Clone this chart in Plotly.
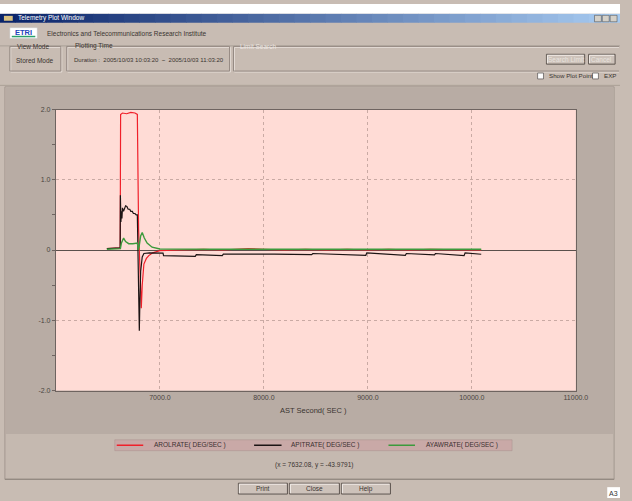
import plotly.graph_objects as go

# ---------------- data ----------------
rol_x = [6490, 6600, 6618, 6622, 6640, 6680, 6720, 6760, 6783, 6795, 6810, 6821, 6830, 6846,
         6870, 6893, 6930, 6972, 7000, 7200, 7400, 7420, 7600, 7800, 7850, 8000, 8200, 8400,
         8600, 8800, 9000, 9200, 9400, 9600, 9800, 10000, 10090]
rol_y = [0.02, 0.02, 0.03, 1.93, 1.95, 1.94, 1.96, 1.95, 1.93, 0.3, -0.6, -0.83, -0.5, -0.2,
         -0.12, -0.08, -0.04, -0.02, -0.01, 0.0, 0.01, 0.01, 0.0, 0.01, 0.02, 0.01, 0.0, 0.01,
         0.0, 0.01, 0.0, 0.01, 0.0, 0.01, 0.0, 0.0, 0.0]

pit_x = [6490, 6600, 6618, 6620, 6625, 6630, 6635, 6640, 6650, 6660, 6670, 6682, 6695, 6710,
         6720, 6735, 6745, 6760, 6772, 6783, 6792, 6802, 6808, 6815, 6830, 6846, 6900, 6960,
         7030, 7035, 7340, 7350, 7600, 7610, 7860, 7870, 8100, 8460, 8470, 8980, 8990, 9360,
         9370, 9640, 9650, 9925, 9935, 10090]
pit_y = [0.02, 0.02, 0.03, 0.78, 0.40, 0.55, 0.45, 0.60, 0.55, 0.60, 0.63, 0.62, 0.58, 0.58,
         0.55, 0.55, 0.52, 0.52, 0.50, 0.50, -0.30, -1.15, -0.70, -0.30, -0.10, -0.05, -0.04, -0.045,
         -0.045, -0.08, -0.09, -0.065, -0.08, -0.06, -0.07, -0.06, -0.06, -0.065, -0.05, -0.075, -0.04, -0.075,
         -0.05, -0.07, -0.05, -0.08, -0.04, -0.06]

yaw_x = [6490, 6600, 6620, 6630, 6651, 6670, 6700, 6740, 6770, 6783, 6792, 6800, 6815, 6830,
         6850, 6877, 6925, 6960, 7000, 7500, 8000, 9000, 10090]
yaw_y = [0.01, 0.01, 0.02, 0.10, 0.17, 0.12, 0.09, 0.09, 0.10, 0.10, 0.0, 0.05, 0.20, 0.25,
         0.17, 0.10, 0.04, 0.025, 0.015, 0.01, 0.01, 0.01, 0.01]

series_names = ["AROLRATE( DEG/SEC )", "APITRATE( DEG/SEC )", "AYAWRATE( DEG/SEC )"]
series_colors = ["#f0202a", "#1c1414", "#3c9a3c"]

x_ticks = [7000, 8000, 9000, 10000, 11000]
x_tick_text = ["7000.0", "8000.0", "9000.0", "10000.0", "11000.0"]
y_ticks = [-2, -1, 0, 1, 2]
y_tick_text = ["-2.0", "-1.0", "0", "1.0", "2.0"]

# ---------------- geometry helpers ----------------
W, H = 632, 501
PL, PR, PT, PB = 57, 587, 107, 392   # plot area in pixels

def px(x):
    return min(x, W) / W
def py(y):
    return 1 - min(y, H) / H

FONT = "Liberation Sans"
shapes = []
annots = []

def rect(x0, y0, x1, y1, fill=None, line=None, lw=1, layer="below"):
    shapes.append(dict(type="rect", xref="paper", yref="paper",
                       x0=px(x0), x1=px(x1), y0=py(y1), y1=py(y0),
                       fillcolor=fill if fill else "rgba(0,0,0,0)",
                       line=dict(color=line if line else "rgba(0,0,0,0)", width=lw if line else 0),
                       layer=layer))

def hline(x0, x1, y, color, lw=1, layer="below"):
    shapes.append(dict(type="line", xref="paper", yref="paper", x0=px(x0), x1=px(x1),
                       y0=py(y), y1=py(y), line=dict(color=color, width=lw), layer=layer))

def vline(x, y0, y1, color, lw=1, layer="below"):
    shapes.append(dict(type="line", xref="paper", yref="paper", x0=px(x), x1=px(x),
                       y0=py(y0), y1=py(y1), line=dict(color=color, width=lw), layer=layer))

def text(x, y, s, size=7, color="#3a3430", anchor="left", bold=False):
    annots.append(dict(xref="paper", yref="paper", x=px(x), y=py(y), text=("<b>%s</b>" % s) if bold else s,
                       showarrow=False, xanchor=anchor, yanchor="middle",
                       font=dict(family=FONT, size=size, color=color)))

def etched_box(x0, y0, x1, y1):
    rect(x0 + 1, y0 + 1, x1 + 1, y1 + 1, line="#e4dcd6")
    rect(x0, y0, x1, y1, line="#958a83")

def open_box(x0, y0, y1):
    # group box whose right side runs off the window edge
    for off, col in ((1, "#e4dcd6"), (0, "#958a83")):
        hline(x0 + off, W - 1, y0 + off, col)
        hline(x0 + off, W - 1, y1 + off, col)
        vline(x0 + off, y0 + off, y1 + off, col)

def button(x0, y0, x1, y1, label, color="#3a3430"):
    rect(x0, y0, x1, y1, fill="#cdc2ba", line="#5e5650")
    hline(x0 + 1, x1 - 1, y0 + 1, "#f2ece8")
    vline(x0 + 1, y0 + 1, y1 - 1, "#f2ece8")
    text((x0 + x1) / 2, (y0 + y1) / 2, label, size=6.5, color=color, anchor="center")

# ---------------- window chrome ----------------
rect(0, 0, W, H, fill="#c8bcb3")
rect(0, 0, W, 10, fill="#ffffff")
# title bar gradient
c0 = (10, 36, 106)
c1 = (166, 202, 240)
N = 40
for i in range(N):
    t = i / (N - 1)
    c = tuple(int(c0[k] + (c1[k] - c0[k]) * t) for k in range(3))
    rect(i * W / N, 10, (i + 1) * W / N + 0.5, 19, fill="rgb(%d,%d,%d)" % c)
text(16, 14.5, "Telemetry Plot Window", size=6.5, color="#ffffff")
rect(4, 12, 13, 17, fill="#d8c080")
for bx in (606, 614, 622):
    rect(bx, 11.5, bx + 7, 18, fill="#d4d0c8", line="#404040", lw=0.5)

# header
rect(10, 24, 38, 35, fill="#ffffff", line="#c0c0c0", lw=0.5)
text(24, 28.5, "ETRI", size=7.5, color="#2244bb", anchor="center", bold=True)
hline(12, 36, 33, "#2aa06a", lw=1.5)
text(46, 30, "Electronics and Telecommunications Research Institute", size=6.5)
hline(0, W, 42.5, "#aaa097")
etched_box(10, 43, 62, 68)
text(15, 43, "View Mode", size=6.5)
text(14, 57, "Stored Mode", size=6.5)
etched_box(68, 43, 234, 68)
text(74, 43, "Plotting Time", size=6.5)
text(73, 57, "Duration :  2005/10/03 10:03:20  ~  2005/10/03 11:03:20", size=6)
open_box(238, 43, 68)
text(243, 43, "Limit Search", size=6.5, color="#ece6e2")
button(557, 51, 596, 61, "Search Limit", color="#e8e2de")
button(600, 51, 627, 61, "Cancel", color="#e8e2de")
rect(548, 70, 554, 76, fill="#ffffff", line="#555050", lw=0.7)
text(558, 73, "Show Plot Point", size=6.2)
rect(604, 70, 610, 76, fill="#ffffff", line="#555050", lw=0.7)
text(614, 73, "EXP", size=6.2)
hline(0, W, 82.5, "#aaa097")

# big panels
rect(5, 84, 626, 482, fill="#c5b9b0", line="#a39890")
rect(6, 85, 625, 436, fill="#b8aca4")
hline(5, 626, 482, "#8c827b")
# plot area background (drawn as a shape so it sits above the panels)
rect(PL, PT, PR, PB, fill="#ffdcd6")

# legend box
rect(117, 442, 522, 453, fill="#c9a9a7", line="#a8928f", lw=0.5)
leg_items = [(119, 146, 155), (259, 287, 295), (396, 423, 432)]
for (lx0, lx1, tx), nm, col in zip(leg_items, series_names, series_colors):
    hline(lx0, lx1, 447.5, col, lw=1.5, layer="above")
    text(tx, 447.5, nm, size=6.5, color="#3a3030")

text(320, 468, "(x = 7632.08, y = -43.9791)", size=6.5, anchor="center")
button(243, 486, 293, 497, "Print")
button(295, 486, 346, 497, "Close")
button(348, 486, 398, 497, "Help")
rect(619, 490, 632, 501, fill="#ffffff")
text(625.5, 496, "A3", size=7, color="#333333", anchor="center")

# axis title
text(320, 412, "AST Second( SEC )", size=7.5, color="#3a3430", anchor="center")

# ---------------- traces ----------------
fig = go.Figure()
for xs, ys, nm, col, lw in [(rol_x, rol_y, series_names[0], series_colors[0], 1.2),
                            (pit_x, pit_y, series_names[1], series_colors[1], 1.2),
                            (yaw_x, yaw_y, series_names[2], series_colors[2], 1.4)]:
    fig.add_trace(go.Scatter(x=xs, y=ys, mode="lines", name=nm,
                             line=dict(color=col, width=lw), showlegend=False,
                             hoverinfo="skip"))

fig.update_layout(
    autosize=True,
    margin=dict(l=0, r=0, t=0, b=0, pad=0),
    paper_bgcolor="#c8bcb3",
    plot_bgcolor="#ffdcd6",
    showlegend=False,
    shapes=shapes,
    annotations=annots,
    xaxis=dict(domain=[px(PL), px(PR)], range=[6000, 11000],
               tickvals=x_ticks, ticktext=x_tick_text,
               showgrid=True, gridcolor="#c9aaa4", griddash="dot", gridwidth=1,
               showline=True, linecolor="#6e6460", linewidth=1, mirror=True,
               ticks="", tickfont=dict(family=FONT, size=7, color="#4a4440"),
               zeroline=False),
    yaxis=dict(domain=[py(PB), py(PT)], range=[-2, 2],
               tickvals=y_ticks, ticktext=y_tick_text,
               showgrid=True, gridcolor="#c9aaa4", griddash="dot", gridwidth=1,
               showline=True, linecolor="#6e6460", linewidth=1, mirror=True,
               ticks="outside", ticklen=3, tickcolor="#6e6460",
               minor=dict(dtick=0.5, ticks="outside", ticklen=3, tickcolor="#6e6460", showgrid=False),
               tickfont=dict(family=FONT, size=7, color="#4a4440"),
               zeroline=True, zerolinecolor="#5a504c", zerolinewidth=1),
)

fig.write_html(
    "out.html",
    config={"displayModeBar": False, "responsive": True},
    default_width="100vw",
    default_height="100vh",
    post_script=("document.documentElement.style.margin='0';"
                 "document.documentElement.style.overflow='hidden';"
                 "document.body.style.margin='0';"
                 "document.body.style.overflow='hidden';"
                 "Plotly.Plots.resize(document.getElementById('{plot_id}'));"),
)
